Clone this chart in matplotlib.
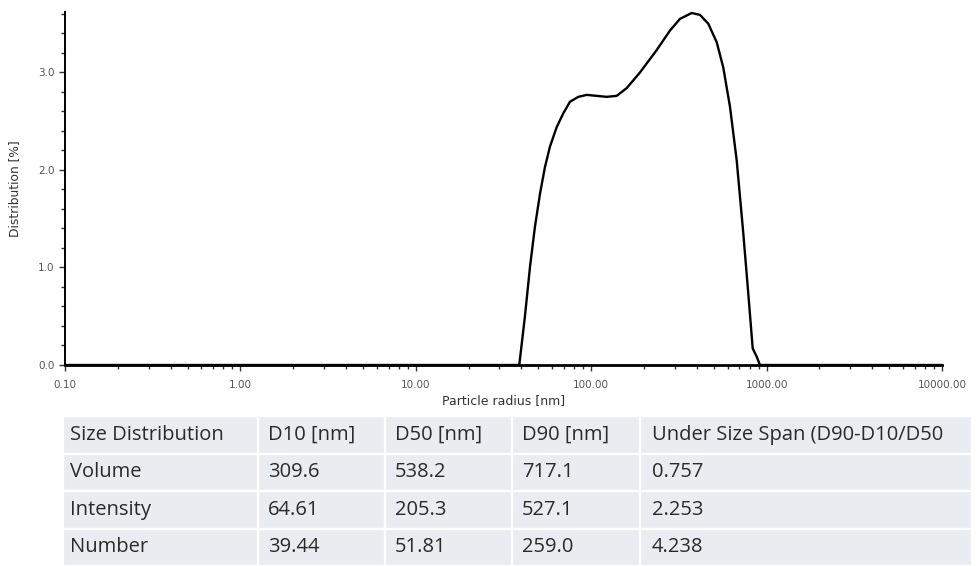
import numpy as np
import matplotlib
matplotlib.use('Agg')
import matplotlib.pyplot as plt
from matplotlib.ticker import FuncFormatter, LogLocator, MultipleLocator

# distribution curve
radius = [0.1, 38.9, 41.9, 44.8, 47.8, 51.1, 54.5, 58.2, 63.6, 69.3, 75.7,
          84.5, 94.3, 107.5, 122.5, 139.8, 159.4, 189.7, 236.3, 281.3, 320.9,
          374.2, 417.2, 465.2, 519.5, 566.3, 618.1, 675.2, 736.4, 786.5,
          833.2, 878.3, 916.2, 10000]
dist = [0.0, 0.0, 0.50, 1.01, 1.42, 1.76, 2.03, 2.24, 2.44, 2.58, 2.70,
        2.75, 2.77, 2.76, 2.75, 2.76, 2.84, 3.00, 3.23, 3.43, 3.55,
        3.61, 3.59, 3.50, 3.31, 3.05, 2.65, 2.10, 1.35, 0.73,
        0.17, 0.085, 0.0, 0.0]

# table
col_labels = ['Size Distribution', 'D10 [nm]', 'D50 [nm]', 'D90 [nm]',
              'Under Size Span (D90-D10/D50']
row_names = ['Volume', 'Intensity', 'Number']
d10 = ['309.6', '64.61', '39.44']
d50 = ['538.2', '205.3', '51.81']
d90 = ['717.1', '527.1', '259.0']
span = ['0.757', '2.253', '4.238']

W, H = 977, 566
fig = plt.figure(figsize=(W / 100, H / 100), dpi=100)

ax = fig.add_axes([65 / W, 1 - 365 / H, (942 - 65) / W, (365 - 12) / H])
ax.plot(radius, dist, color='black', lw=1.7, clip_on=False,
        solid_joinstyle='round', solid_capstyle='round')
ax.set_xscale('log')
ax.set_xlim(0.1, 10000)
ax.set_ylim(0, 3.62)

for s in ['top', 'right']:
    ax.spines[s].set_visible(False)
ax.spines['left'].set_linewidth(1.4)
ax.spines['bottom'].set_linewidth(2.0)

ax.xaxis.set_major_locator(LogLocator(base=10))
ax.xaxis.set_minor_locator(LogLocator(base=10, subs=np.arange(2, 10)))
ax.xaxis.set_major_formatter(FuncFormatter(lambda v, p: '%.2f' % v))
ax.xaxis.set_minor_formatter(FuncFormatter(lambda v, p: ''))
ax.yaxis.set_major_locator(MultipleLocator(1.0))
ax.yaxis.set_minor_locator(MultipleLocator(0.2))
ax.yaxis.set_major_formatter(FuncFormatter(lambda v, p: '%.1f' % v))

ax.tick_params(axis='both', which='major', labelsize=7.5, labelcolor='#555555',
               color='#333333', length=4.5, width=1.0)
ax.tick_params(axis='both', which='minor', color='#333333', length=3, width=1.0)
ax.tick_params(axis='x', which='major', pad=6)
ax.tick_params(axis='y', which='major', pad=3)

ax.set_xlabel('Particle radius [nm]', fontsize=9, color='#333333', labelpad=3)
ax.set_ylabel('Distribution [%]', fontsize=8.8, color='#333333', labelpad=12)

# size distribution table
cells = [col_labels] + [[row_names[i], d10[i], d50[i], d90[i], span[i]]
                        for i in range(len(row_names))]
col_w = np.array([195, 127, 127, 128, 332], dtype=float)
pads = [7, 10, 10, 10, 12]
tax = fig.add_axes([63 / W, 0, (972 - 63) / W, 150 / H])
tax.axis('off')
tbl = tax.table(cellText=cells, colWidths=list(col_w / col_w.sum()),
                cellLoc='left', bbox=[0, 0, 1, 1])
tbl.auto_set_font_size(False)
for (r, c), cell in tbl.get_celld().items():
    cell.set_facecolor('#e9ecf1')
    cell.set_edgecolor('white')
    cell.set_linewidth(1.6)
    cell.PAD = pads[c] / col_w[c]
    cell.get_text().set_fontsize(14.5)
    cell.get_text().set_color('#2a2a2a')
    cell.get_text().set_fontfamily('Open Sans')

fig.savefig('out.png', dpi=100)
